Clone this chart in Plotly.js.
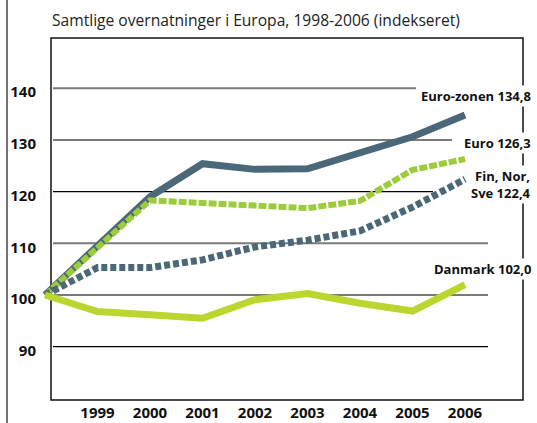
<!DOCTYPE html>
<html><head><meta charset="utf-8">
<script src="https://cdn.plot.ly/plotly-3.0.1.min.js"></script>
<style>html,body{margin:0;padding:0;background:#fff}#c{width:537px;height:423px}</style>
</head><body><div id="c"></div>
<script>
const years = [1998,1999,2000,2001,2002,2003,2004,2005,2006];
const euroZonen = [100,109.5,119,125.4,124.3,124.4,127.6,130.6,134.8];
const euro = [100,109,118.3,117.8,117.2,116.8,118.2,124.2,126.3];
const finNorSve = [100,105.3,105.3,106.8,109.3,110.6,112.4,117,122.4];
const danmark = [100,96.8,96.2,95.5,99.1,100.3,98.4,96.9,102.0];
const yTicks = [90,100,110,120,130,140];
const xTicks = [1999,2000,2001,2002,2003,2004,2005,2006];
const seriesLabels = ['Euro-zonen 134,8','Euro 126,3','Fin, Nor,<br>Sve 122,4','Danmark 102,0'];
const titleText = 'Samtlige overnatninger i Europa, 1998-2006 (indekseret)';

const W = 537, H = 423;
const font = 'Open Sans, Noto Sans, sans-serif';
const slate = '#4b6878', green = '#9ccb3b', lime = '#bdd62f';

const traces = [
  {x: years, y: euroZonen, mode:'lines', line:{color:slate, width:7}},
  {x: years, y: euro, mode:'lines', line:{color:green, width:6, dash:'8px,2px'}},
  {x: years, y: finNorSve, mode:'lines', line:{color:slate, width:7, dash:'6px,3px'}},
  {x: years, y: danmark, mode:'lines', line:{color:lime, width:7}}
].map(t => Object.assign(t, {hoverinfo:'skip', showlegend:false}));

const gridEnds = {140:416,130:452,120:433,110:488,100:488,90:488};
const gridCols = {140:'#7a7a7a',130:'#7a7a7a',120:'#000',110:'#7a7a7a',100:'#7a7a7a',90:'#000'};
const L = 40;
const px = v => (v - L)/(W - L);
const shapes = [];
yTicks.forEach(v => shapes.push({type:'line', xref:'paper', yref:'y', x0:px(53), x1:px(gridEnds[v]), y0:v, y1:v,
  line:{color:gridCols[v], width: gridCols[v]==='#000'?1.3:2}, layer:'below'}));
const pyv = p => 1 - p/400;
shapes.push({type:'rect', xref:'paper', yref:'paper', x0:px(51), x1:px(523), y0:pyv(400), y1:pyv(38), line:{color:'#111', width:1.5}, layer:'below'});
shapes.push({type:'line', xref:'paper', yref:'paper', x0:px(7), x1:px(7), y0:pyv(423), y1:pyv(0), line:{color:'#444', width:1.5}, layer:'below'});

const lab = (text, yc) => ({xref:'paper', yref:'paper', x:px(533), y:pyv(yc), xanchor:'right', yanchor:'middle',
  text:text, showarrow:false, align:'right', bgcolor:'#fff', borderpad:1,
  font:{family:font, size:13, color:'#111', weight:'bold'}});
const annotations = [
  lab(seriesLabels[0], 96),
  lab(seriesLabels[1], 143),
  lab(seriesLabels[2], 184),
  lab(seriesLabels[3], 269),
  {xref:'paper', yref:'paper', x:px(50), y:pyv(20), xanchor:'left', yanchor:'middle', text:titleText, showarrow:false,
   font:{family:font, size:15.6, color:'#222'}}
];

const layout = {
  width:W, height:H, margin:{l:L, r:0, t:0, b:23}, paper_bgcolor:'#fff', plot_bgcolor:'rgba(0,0,0,0)',
  xaxis:{range:[1997.905, 2007.371], tickvals:xTicks, ticktext:xTicks.map(String), showgrid:false, zeroline:false, showline:false,
    ticks:'', ticklabelstandoff:2, tickfont:{family:font, size:15, color:'#111', weight:'bold'}},
  yaxis:{range:[79.69, 157.06], tickvals:yTicks, showgrid:false, zeroline:false, showline:false, ticks:'',
    ticklabelshift:4, ticklabelstandoff:3, tickfont:{family:font, size:15, color:'#111', weight:'bold'}},
  shapes, annotations
};
Plotly.newPlot('c', traces, layout, {staticPlot:true, displayModeBar:false});
</script></body></html>
